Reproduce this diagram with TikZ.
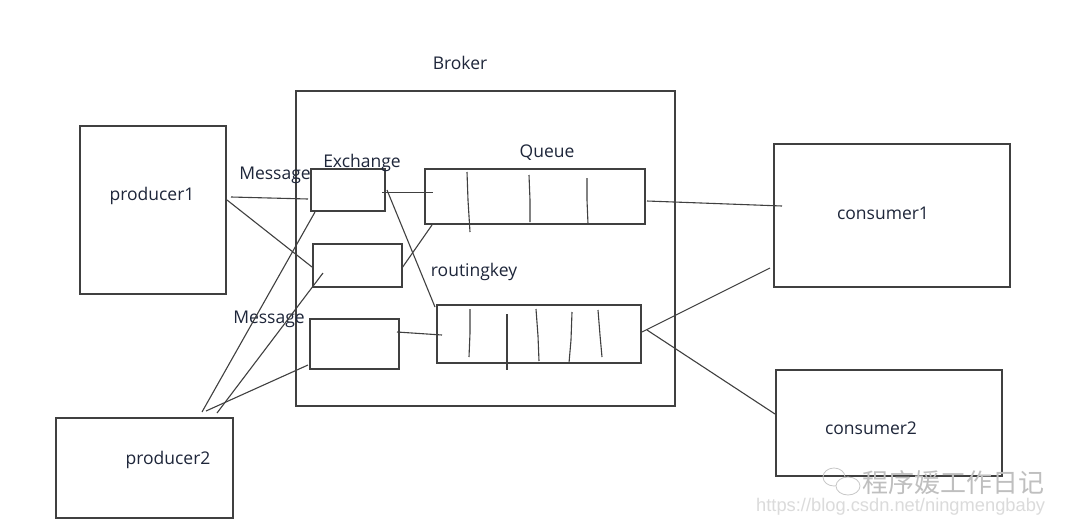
\documentclass[tikz,border=0pt]{standalone}
\usepackage{fontspec}
\setmainfont{Open Sans}
\newfontfamily\cjk{Noto Sans CJK SC}
\newfontfamily\wmfont{Liberation Sans}
\begin{document}
\begin{tikzpicture}[x=1pt,y=-1pt,
  box/.style={draw=black!75,line width=1.2pt},
  ln/.style={draw=black!75,line width=1.1pt},
  lbl/.style={text=txtc,font=\fontsize{17.5}{20}\selectfont,inner sep=0pt,anchor=base}]
\definecolor{txtc}{RGB}{30,38,58}
\useasboundingbox[fill=white] (0,0) rectangle (1080,528);
% boxes
\draw[box] (296,91) rectangle (675,406);
\node[lbl] (broker) at (460,69) {Broker};
\draw[box] (80,126) rectangle (226,294);
\node[lbl] (p1t) at (152,200) {producer1};
\draw[box] (56,418) rectangle (233,518);
\node[lbl] (p2t) at (168,464) {producer2};
\draw[box] (774,144) rectangle (1010,287);
\node[lbl] (c1t) at (883,219) {consumer1};
\draw[box] (776,370) rectangle (1002,476);
\node[lbl] (c2t) at (871,434) {consumer2};
% exchanges
\draw[box] (311,169) rectangle (385,211);
\draw[box] (313,244) rectangle (402,287);
\draw[box] (310,319) rectangle (399,369);
\node[lbl] (ex) at (362,167) {Exchange};
\node[lbl] (m1) at (275,179) {Message};
\node[lbl] (m2) at (269,323) {Message};
% queues
\draw[box] (425,169) rectangle (645,224);
\draw[ln] (467,172) -- (468,200) -- (470,232);
\draw[ln] (529,175) -- (530,200) -- (530,222);
\draw[ln] (587,178) -- (587,200) -- (588,224);
\node[lbl] (q) at (547,157) {Queue};
\draw[box] (437,305) rectangle (641,363);
\draw[ln] (470,309) -- (470,333) -- (469,357);
\draw[ln] (507,314) -- (507,370);
\draw[ln] (536,309) -- (538,336) -- (539,361);
\draw[ln] (572,312) -- (571,340) -- (569,363);
\draw[ln] (598,310) -- (600,335) -- (602,357);
\node[lbl] (rk) at (474,276) {routingkey};
% connectors
\draw[ln] (231,197) -- (308,199);
\draw[ln] (227,200) -- (312,267);
\draw[ln] (382,192.5) -- (433,192.5);
\draw[ln] (387,190) -- (435,307);
\draw[ln] (402,268) -- (432,225);
\draw[ln] (397,332) -- (442,335);
\draw[ln] (647,201) -- (782,206);
\draw[ln] (642,332) -- (770,268);
\draw[ln] (647,330) -- (775,414);
\draw[ln] (202,412) -- (315,212);
\draw[ln] (217,413) -- (323,273);
\draw[ln] (206,411) -- (308,365);
% watermark
\begin{scope}[draw=black!22,line width=0.8pt]
\draw (834,477) ellipse (11 and 9);
\draw[fill=white] (848,486) ellipse (12 and 9);
\end{scope}
\node[text=black!25,font=\cjk\fontsize{26}{28}\selectfont,anchor=base west,inner sep=0pt] (wm1) at (862,492) {程序媛工作日记};
\node[text=black!14,font=\wmfont\fontsize{18.3}{20}\selectfont,anchor=base west,inner sep=0pt] (wm2) at (756,511) {https://blog.csdn.net/ningmengbaby};
\end{tikzpicture}
\end{document}
